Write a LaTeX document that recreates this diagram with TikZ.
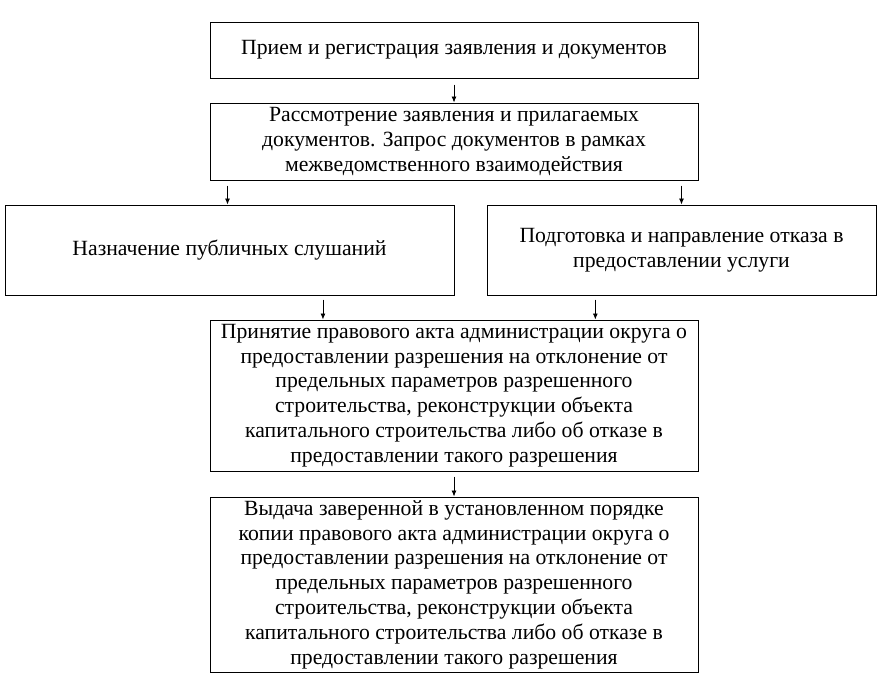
\documentclass[tikz,border=0pt]{standalone}
\usepackage{fontspec}
\setmainfont{Liberation Serif}
\usetikzlibrary{arrows.meta, calc}
\tikzset{
    stepbox/.style={draw, line width=1pt, inner sep=0pt, align=center,
        font=\fontsize{21.7}{24.8}\selectfont},
    downarr/.style={line width=0.8pt, -{Latex[length=6pt, width=5pt]}}
}
\begin{document}
\begin{tikzpicture}[x=1pt, y=-1pt]
    \useasboundingbox (0,0) rectangle (880,675);
    \coordinate (c1) at (454, 50);
    \coordinate (c2) at (454, 141.5);
    \coordinate (c3) at (229.5, 250);
    \coordinate (c4) at (681.5, 250);
    \coordinate (c5) at (454, 395.5);
    \coordinate (c6) at (454, 584.5);
    \node[stepbox, minimum width=488pt, minimum height=56pt] (priem) at (c1)
        {Прием и регистрация заявления и документов};
    \node[stepbox, minimum width=488pt, minimum height=77pt] (rassm) at (c2)
        {Рассмотрение заявления и прилагаемых\\документов. Запрос документов в рамках\\межведомственного взаимодействия};
    \node[stepbox, minimum width=449pt, minimum height=90pt] (slush) at (c3)
        {Назначение публичных слушаний};
    \node[stepbox, minimum width=389pt, minimum height=90pt] (otkaz) at (c4)
        {Подготовка и направление отказа в\\предоставлении услуги};
    \node[stepbox, minimum width=488pt, minimum height=151pt] (akt) at (c5)
        {Принятие правового акта администрации округа о\\предоставлении разрешения на отклонение от\\предельных параметров разрешенного\\строительства, реконструкции объекта\\капитального строительства либо об отказе в\\предоставлении такого разрешения};
    \node[stepbox, minimum width=488pt, minimum height=175pt] (vydacha) at (c6)
        {Выдача заверенной в установленном порядке\\копии правового акта администрации округа о\\предоставлении разрешения на отклонение от\\предельных параметров разрешенного\\строительства, реконструкции объекта\\капитального строительства либо об отказе в\\предоставлении такого разрешения};
    % arrows between the steps
    \draw[downarr] ([yshift=-6pt]priem.south) -- (rassm.north);
    \draw[downarr] ($(slush.north |- rassm.south)+(-2,5)$) -- ($(slush.north)+(-2,0)$);
    \draw[downarr] ($(otkaz.north |- rassm.south)+(0,5)$) -- (otkaz.north);
    \draw[downarr] ($(akt.north west)!0.232!(akt.north east)+(0,-20)$) -- ($(akt.north west)!0.232!(akt.north east)$);
    \draw[downarr] ($(akt.north west)!0.789!(akt.north east)+(0,-20)$) -- ($(akt.north west)!0.789!(akt.north east)$);
    \draw[downarr] ([yshift=-5pt]akt.south) -- (vydacha.north);
\end{tikzpicture}
\end{document}
